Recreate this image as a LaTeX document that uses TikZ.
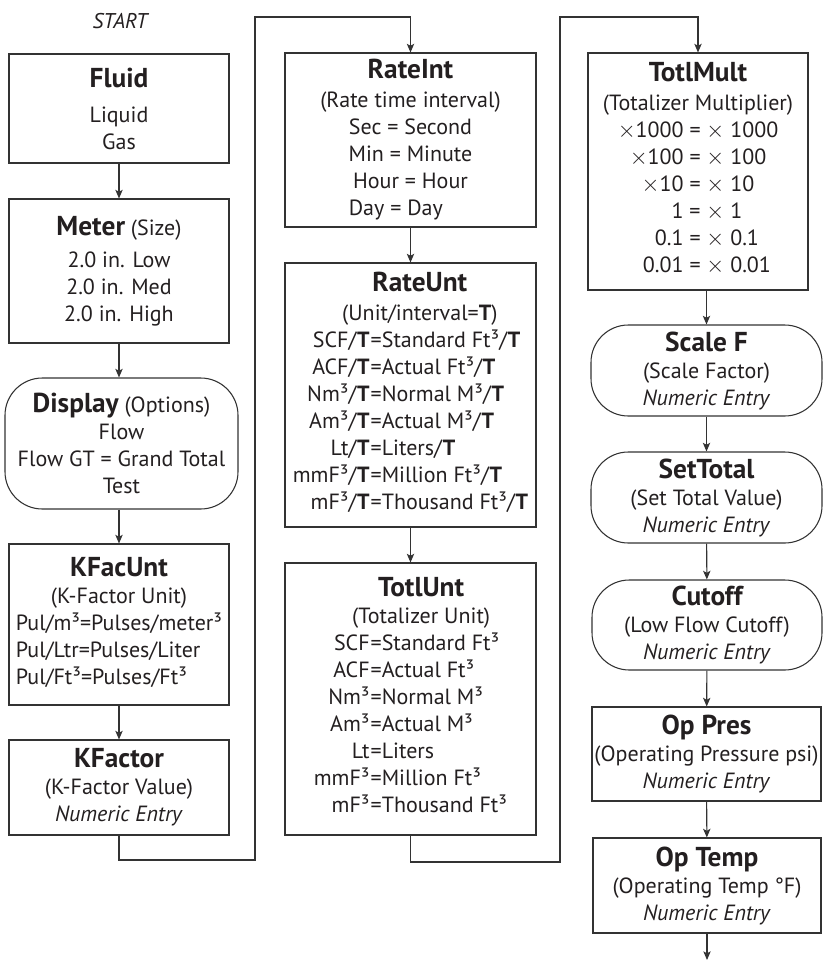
\documentclass[tikz,border=0pt]{standalone}
\usepackage{fontspec}
\setmainfont{PT Sans}
\usetikzlibrary{arrows.meta}
\definecolor{ink}{HTML}{231F20}
\definecolor{edgec}{HTML}{333333}
\newcommand\ttl[1]{{\fontsize{20.5}{20.25}\selectfont\bfseries #1}}
\newcommand\tb{\textbf{T}}
\newcommand\cube{³}
\newcommand\mx{$\times$}
\begin{document}
\begin{tikzpicture}[x=0.75pt,y=-0.75pt,
  every node/.style={text=ink},
  bx/.style={draw=edgec, line width=0.8pt, inner sep=0pt, align=center, font=\fontsize{16.5}{20.25}\selectfont},
  rbx/.style={bx, rounded corners=28pt},
  arr/.style={draw=edgec, line width=0.8pt, -{Stealth[length=6.5pt,width=5.5pt,inset=1.5pt]}},
  ln/.style={draw=edgec, line width=0.8pt}
]
\useasboundingbox (0,0) rectangle (823,971);

% column 1
\node[font=\fontsize{16}{18}\selectfont\itshape] (start) at (120,21) {START};
\node[bx, minimum width=165pt, minimum height=81.75pt] (fluid) at (119,108.5)
  {\ttl{Fluid}\\[6pt]Liquid\\Gas};
\node[bx, minimum width=165pt, minimum height=108pt] (meter) at (119,271)
  {\ttl{Meter} (Size)\\[3.5pt]2.0 in. Low\\2.0 in. Med\\2.0 in. High};
\node[rbx, minimum width=174.75pt, minimum height=98.25pt] (display) at (121.5,443.5)
  {\ttl{Display} (Options)\\Flow\\Flow GT = Grand Total\\Test};
\node[bx, minimum width=165pt, minimum height=120.75pt] (kfacunt) at (119,624.5)
  {\ttl{KFacUnt}\\(K-Factor Unit)\\
   \begin{tabular}[t]{@{}l@{}}Pul/m\cube=Pulses/meter\cube\\Pul/Ltr=Pulses/Liter\\Pul/Ft\cube=Pulses/Ft\cube\end{tabular}};
\node[bx, minimum width=165pt, minimum height=71.25pt] (kfactor) at (119,787.5)
  {\ttl{KFactor}\\(K-Factor Value)\\\textit{Numeric Entry}};

% column 2
\node[bx, minimum width=188.25pt, minimum height=130.5pt] (rateint) at (410.5,140)
  {\ttl{RateInt}\\[1.5pt](Rate time interval)\\Sec = Second\\Min = Minute\\Hour = Hour\hspace*{22pt}\\Day = Day\hspace*{22pt}};
\node[bx, minimum width=188.25pt, minimum height=198pt] (rateunt) at (410.5,395)
  {\hspace*{14pt}\ttl{RateUnt}\\[1.5pt]\hspace*{14pt}(Unit/interval=\tb)\\
   \begin{tabular}[t]{@{}r@{\kern0.8pt=}l@{}}
   SCF/\tb & Standard Ft\cube/\tb\\
   ACF/\tb & Actual Ft\cube/\tb\\
   Nm\cube/\tb & Normal M\cube/\tb\\
   Am\cube/\tb & Actual M\cube/\tb\\
   Lt/\tb & Liters/\tb\\
   mmF\cube/\tb & Million Ft\cube/\tb\\
   mF\cube/\tb & Thousand Ft\cube/\tb
   \end{tabular}};
\node[bx, minimum width=188.25pt, minimum height=204pt] (totlunt) at (410.5,699)
  {\hspace*{16pt}\ttl{TotlUnt}\\\hspace*{16pt}(Totalizer Unit)\\
   \begin{tabular}[t]{@{}r@{\kern0.8pt=}l@{}}
   SCF & Standard Ft\cube\\
   ACF & Actual Ft\cube\\
   Nm\cube & Normal M\cube\\
   Am\cube & Actual M\cube\\
   Lt & Liters\\
   mmF\cube & Million Ft\cube\\
   mF\cube & Thousand Ft\cube
   \end{tabular}};

% column 3
\node[bx, minimum width=165pt, minimum height=177.75pt] (totlmult) at (698,171.5)
  {\ttl{TotlMult}\\[1.5pt](Totalizer Multiplier)\\
   \begin{tabular}[t]{@{}r@{\ =\ }l@{}}
   \mx1000 & \mx\ 1000\\
   \mx100 & \mx\ 100\\
   \mx10 & \mx\ 10\\
   1 & \mx\ 1\\
   0.1 & \mx\ 0.1\\
   0.01 & \mx\ 0.01
   \end{tabular}};
\node[rbx, minimum width=173.25pt, minimum height=68.25pt] (scalef) at (706.5,370.5)
  {\ttl{Scale F}\\(Scale Factor)\\\textit{Numeric Entry}};
\node[rbx, minimum width=173.25pt, minimum height=68.25pt] (settotal) at (706.5,497.5)
  {\ttl{SetTotal}\\(Set Total Value)\\\textit{Numeric Entry}};
\node[rbx, minimum width=172.5pt, minimum height=67.5pt] (cutoff) at (707,625)
  {\ttl{Cutoff}\\(Low Flow Cutoff)\\\textit{Numeric Entry}};
\node[bx, minimum width=171.75pt, minimum height=70.5pt] (oppres) at (706.5,754)
  {\ttl{Op Pres}\\(Operating Pressure psi)\\\textit{Numeric Entry}};
\node[bx, minimum width=171pt, minimum height=71.25pt] (optemp) at (707,885.5)
  {\ttl{Op Temp}\\(Operating Temp °F)\\\textit{Numeric Entry}};

% connector coordinates
\coordinate (b1) at (255,860);
\coordinate (b2) at (255,17);
\coordinate (b3) at (560,862);
\coordinate (b4) at (560,17);
\coordinate (fin) at (712,960);

% arrows
\draw[arr] (fluid) -- (meter);
\draw[arr] (meter.south) -- (meter.south |- display.north);
\draw[arr] (kfacunt.north |- display.south) -- (kfacunt.north);
\draw[arr] (kfacunt) -- (kfactor);
\draw[arr] (kfactor.south) |- (b1) -- (b2) -| (rateint.north);
\draw[arr] (rateint) -- (rateunt);
\draw[arr] (rateunt) -- (totlunt);
\draw[arr] (totlunt.south) |- (b3) -- (b4) -| (totlmult.north);
\draw[arr] (scalef.north |- totlmult.south) -- (scalef.north);
\draw[arr] (scalef) -- (settotal);
\draw[arr] (settotal) -- (cutoff);
\draw[arr] (cutoff) -- (oppres);
\draw[arr] (oppres) -- (optemp);
\draw[arr] (optemp.south) -- (optemp.south |- fin);
\end{tikzpicture}
\end{document}
